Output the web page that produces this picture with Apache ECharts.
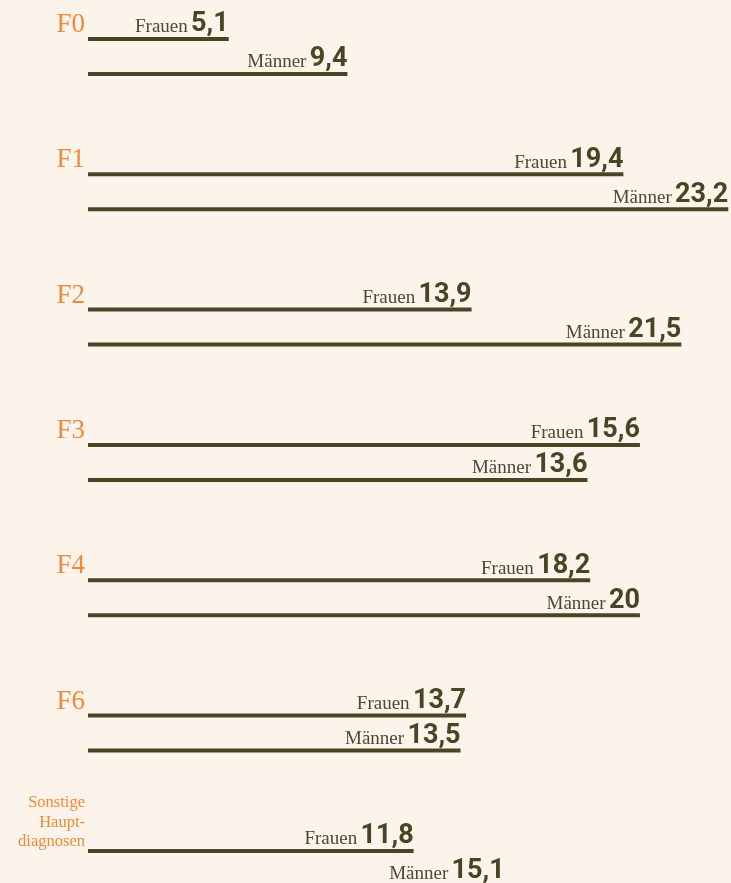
<!DOCTYPE html>
<html>
<head>
<meta charset="utf-8">
<script src="https://cdn.jsdelivr.net/npm/echarts@6/dist/echarts.min.js"></script>
<style>
  html, body { margin: 0; padding: 0; background: #fcf3eb; }
  #chart { width: 731px; height: 883px; }
</style>
</head>
<body>
<div id="chart"></div>
<script>
// Diagnosegruppen
const kategorien = ['F0', 'F1', 'F2', 'F3', 'F4', 'F6', 'Sonstige\nHaupt-\ndiagnosen']
// Balkenlängen wie im Bild gezeichnet
const frauenWerte = [5.1, 19.4, 13.9, 20.0, 18.2, 13.7, 11.8]
const maennerWerte = [9.4, 23.2, 21.5, 18.1, 20, 13.5, 15.1]
// Beschriftungen wie im Bild
const frauenText = ['5,1', '19,4', '13,9', '15,6', '18,2', '13,7', '11,8']
const maennerText = ['9,4', '23,2', '21,5', '13,6', '20', '13,5', '15,1']

const dunkel = '#4a4425'
const orange = '#f08a3b'

const chart = echarts.init(document.getElementById('chart'))

const barLabel = (name, texts) => ({
  show: true,
  position: ['100%', '0%'],
  align: 'right',
  verticalAlign: 'bottom',
  offset: [0, 1],
  formatter: (p) => `{n|${name}} {v|${texts[p.dataIndex]}}`,
  rich: {
    n: {
      fontFamily: 'Liberation Serif',
      fontSize: 19,
      color: '#4d4733',
      lineHeight: 26,
      verticalAlign: 'bottom',
      padding: [0, 0, 1, 0]
    },
    v: {
      fontFamily: 'Roboto',
      fontWeight: 'bold',
      fontSize: 27,
      color: dunkel,
      lineHeight: 26,
      verticalAlign: 'bottom'
    }
  }
})

chart.setOption({
  backgroundColor: '#fcf3eb',
  animation: false,
  grid: {
    left: 88,
    right: 0,
    top: -11.2,
    height: 947.3,
    containLabel: false,
    outerBoundsMode: 'none'
  },
  xAxis: {
    type: 'value',
    min: 0,
    max: 23.3,
    show: false
  },
  yAxis: {
    type: 'category',
    inverse: true,
    data: kategorien,
    axisLine: { show: false },
    axisTick: { show: false },
    splitLine: { show: false },
    axisLabel: {
      margin: 3,
      verticalAlign: 'bottom',
      padding: [0, 0, 17, 0],
      formatter: (v) => (v.indexOf('\n') >= 0 ? `{s|${v}}` : `{b|${v}}`),
      rich: {
        b: {
          fontFamily: 'Liberation Serif',
          fontSize: 27,
          lineHeight: 26,
          color: orange,
          align: 'right',
          padding: [0, 0, 3, 0]
        },
        s: {
          fontFamily: 'Liberation Serif',
          fontSize: 16.5,
          lineHeight: 19.5,
          color: orange,
          align: 'right'
        }
      }
    }
  },
  series: [
    {
      name: 'Frauen',
      type: 'bar',
      data: frauenWerte,
      barWidth: 4,
      barGap: '775%',
      itemStyle: { color: dunkel },
      label: barLabel('Frauen', frauenText)
    },
    {
      name: 'Männer',
      type: 'bar',
      data: maennerWerte,
      barWidth: 4,
      itemStyle: { color: dunkel },
      label: barLabel('Männer', maennerText)
    }
  ]
})
</script>
</body>
</html>
